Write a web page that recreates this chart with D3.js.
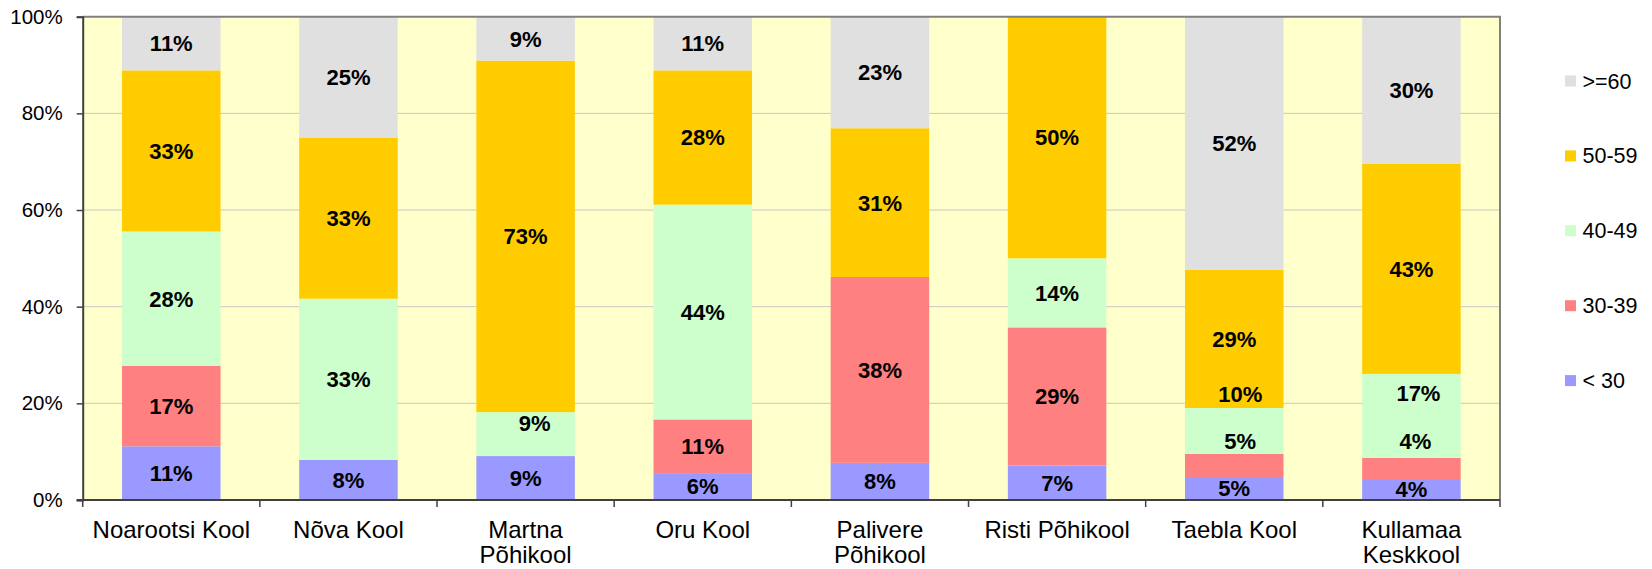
<!DOCTYPE html>
<html>
<head>
<meta charset="utf-8">
<script src="https://cdn.jsdelivr.net/npm/d3@7"></script>
<style>
  body { margin: 0; background: #fff; }
  text { font-family: "Liberation Sans", Arial, sans-serif; fill: #000; }
</style>
</head>
<body>
<div id="chart"></div>
<script>
// schools (x categories)
const schools = ["Noarootsi Kool", "Nõva Kool", "Martna Põhikool", "Oru Kool",
  "Palivere Põhikool", "Risti Põhikool", "Taebla Kool", "Kullamaa Keskkool"];

// age groups, bottom to top of each stack
const groups = ["< 30", "30-39", "40-49", "50-59", ">=60"];
const colors = ["#9999FF", "#FF8080", "#CCFFCC", "#FFCC00", "#E0E0E0"];

// share of teachers in each age group, %
const under30 = [11.11, 8.33, 9.09, 5.56, 7.69, 7.14, 4.76, 4.35];
const age30_39 = [16.67, 0, 0, 11.11, 38.46, 28.57, 4.76, 4.35];
const age40_49 = [27.78, 33.33, 9.09, 44.44, 0, 14.29, 9.52, 17.39];
const age50_59 = [33.33, 33.33, 72.73, 27.78, 30.77, 50, 28.57, 43.48];
const over60 = [11.11, 25, 9.09, 11.11, 23.08, 0, 52.38, 30.43];

const yTicks = [0, 20, 40, 60, 80, 100];

// labels that were dragged off the segment centre in the original
const labelNudge = [
  { school: "Martna Põhikool", group: "40-49", dx: 9, dy: -11 },
  { school: "Taebla Kool", group: "30-39", dx: 6, dy: -24 },
  { school: "Taebla Kool", group: "40-49", dx: 6, dy: -37 },
  { school: "Kullamaa Keskkool", group: "30-39", dx: 4, dy: -27 },
  { school: "Kullamaa Keskkool", group: "40-49", dx: 7, dy: -23 }
];

const seriesValues = [under30, age30_39, age40_49, age50_59, over60];
const rows = schools.map((s, i) => {
  const r = { school: s };
  groups.forEach((g, j) => r[g] = seriesValues[j][i]);
  return r;
});

const width = 1652, height = 569;
const plotLeft = 82.7, plotRight = 1500, plotTop = 16.7, plotBottom = 500;

const svg = d3.select("#chart").append("svg")
  .attr("width", width).attr("height", height);

const x = d3.scaleBand().domain(schools).range([plotLeft, plotRight])
  .paddingInner(0.444).paddingOuter(0.222);
const y = d3.scaleLinear().domain([0, 100]).range([plotBottom, plotTop]);
const color = d3.scaleOrdinal().domain(groups).range(colors);

// plot background
svg.append("rect")
  .attr("x", plotLeft).attr("y", plotTop)
  .attr("width", plotRight - plotLeft).attr("height", plotBottom - plotTop)
  .attr("fill", "#FFFFCC");

// gridlines
svg.append("g")
  .selectAll("line")
  .data(yTicks.filter(d => d > 0 && d < 100))
  .join("line")
  .attr("x1", plotLeft).attr("x2", plotRight)
  .attr("y1", d => y(d)).attr("y2", d => y(d))
  .attr("stroke", "#C8C8C8").attr("stroke-width", 1);

const stacked = d3.stack().keys(groups)(rows);

svg.append("g")
  .selectAll("g")
  .data(stacked)
  .join("g")
  .attr("fill", d => color(d.key))
  .selectAll("rect")
  .data(d => d)
  .join("rect")
  .attr("x", d => x(d.data.school))
  .attr("width", x.bandwidth())
  .attr("y", d => y(d[1]))
  .attr("height", d => y(d[0]) - y(d[1]));

// value labels
const labels = [];
stacked.forEach(layer => {
  layer.forEach(d => {
    const v = d[1] - d[0];
    if (v <= 0) return;
    const n = labelNudge.find(o => o.school === d.data.school && o.group === layer.key);
    labels.push({
      x: x(d.data.school) + x.bandwidth() / 2 + (n ? n.dx : 0),
      y: (y(d[0]) + y(d[1])) / 2 + (n ? n.dy : 0),
      text: Math.round(v) + "%"
    });
  });
});

svg.append("g")
  .selectAll("text")
  .data(labels)
  .join("text")
  .attr("x", d => d.x)
  .attr("y", d => d.y)
  .attr("dy", "0.36em")
  .attr("text-anchor", "middle")
  .style("font-size", "22px")
  .style("font-weight", "bold")
  .text(d => d.text);

// plot border (top/right light, axes dark)
svg.append("path")
  .attr("d", `M${plotLeft},${plotTop}H${plotRight}V${plotBottom}`)
  .attr("fill", "none").attr("stroke", "#808080").attr("stroke-width", 2);

// y axis
const yAxis = svg.append("g")
  .attr("transform", `translate(${plotLeft},0)`)
  .call(d3.axisLeft(y).tickValues(yTicks).tickFormat(d => d + "%").tickSize(6).tickPadding(14));
yAxis.select(".domain").attr("stroke", "#404040").attr("stroke-width", 2);
yAxis.selectAll(".tick line").attr("stroke", "#404040").attr("stroke-width", 1.5);
yAxis.selectAll(".tick text")
  .style("font-size", "20.5px")
  .style("font-family", "'Liberation Sans', Arial, sans-serif")
  .attr("fill", "#000");

// x axis: ticks at band boundaries
const step = x.step();
const bounds = d3.range(schools.length + 1).map(i => plotLeft + i * step);
svg.append("g")
  .selectAll("line")
  .data(bounds)
  .join("line")
  .attr("x1", d => d).attr("x2", d => d)
  .attr("y1", plotBottom).attr("y2", plotBottom + 7)
  .attr("stroke", "#404040").attr("stroke-width", 1.5);
svg.append("line")
  .attr("x1", plotLeft - 6).attr("x2", plotRight)
  .attr("y1", plotBottom).attr("y2", plotBottom)
  .attr("stroke", "#404040").attr("stroke-width", 2);

// category labels, wrapped when too wide for the slot
const xLab = svg.append("g")
  .selectAll("text")
  .data(schools)
  .join("text")
  .attr("x", d => x(d) + x.bandwidth() / 2)
  .attr("y", 537.5)
  .attr("text-anchor", "middle")
  .style("font-size", "24px");

xLab.each(function (d) {
  const t = d3.select(this);
  t.text(d);
  if (this.getComputedTextLength() > 165) {
    const words = d.split(" ");
    t.text(null);
    words.forEach((w, i) => {
      t.append("tspan")
        .attr("x", x(d) + x.bandwidth() / 2)
        .attr("dy", i === 0 ? 0 : 25)
        .text(w);
    });
  }
});

// legend, top group first
const legend = svg.append("g")
  .selectAll("g")
  .data(groups.slice().reverse())
  .join("g")
  .attr("transform", (d, i) => `translate(1565, ${81 + i * 74.9})`);

legend.append("rect")
  .attr("x", 0).attr("y", -5.5)
  .attr("width", 11).attr("height", 11)
  .attr("fill", d => color(d));

legend.append("text")
  .attr("x", 17.5).attr("y", 0)
  .attr("dy", "0.35em")
  .style("font-size", "21.5px")
  .text(d => d);
</script>
</body>
</html>
